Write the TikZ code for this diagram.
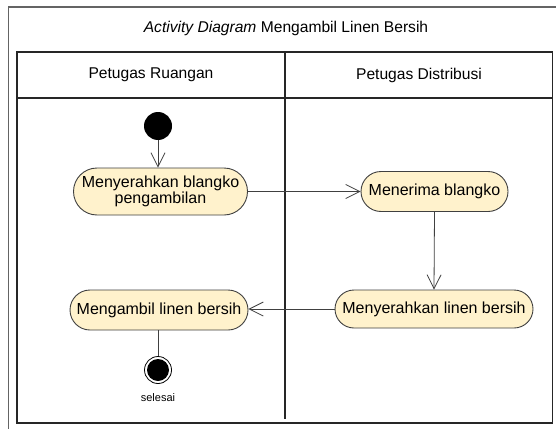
\documentclass[tikz,border=0pt]{standalone}
\usepackage{fontspec}
\setmainfont{Liberation Sans}
\usetikzlibrary{arrows.meta,shapes.misc}
\definecolor{actfill}{RGB}{255,242,204}
\definecolor{linegray}{RGB}{64,64,64}
\definecolor{framegray}{RGB}{100,100,100}
\tikzset{
  activity/.style={rounded rectangle, draw=linegray, fill=actfill, line width=0.9pt,
    align=center, inner sep=0pt,
    font=\fontsize{16}{16.5}\selectfont},
  flow/.style={draw=linegray, line width=0.8pt,
    -{Straight Barb[length=14pt,width=14pt,line width=0.8pt]}},
  plainflow/.style={draw=linegray, line width=0.8pt},
  outerframe/.style={draw=framegray, line width=1.2pt},
  laneframe/.style={draw=black!85, line width=1.3pt},
  lanetitle/.style={font=\fontsize{15.6}{17}\selectfont},
}
\begin{document}
\begin{tikzpicture}[x=1pt,y=-1pt]
  \useasboundingbox (0,0) rectangle (556,428);
  \fill[white] (0,0) rectangle (556,428);
  \clip (0,0) rectangle (556,428);

  % outer diagram frame and title
  \draw[outerframe] (8.5,440) -- (8.5,7) -- (570,7);
  \node[lanetitle] (title) at (286,28) {\textit{Activity Diagram} Mengambil Linen Bersih};

  % swimlanes
  \draw[laneframe] (17,52) rectangle (552.5,423);
  \draw[laneframe] (17,98) -- (552.5,98);
  \draw[laneframe] (285,52) -- (285,419);
  \node[lanetitle] (laneA) at (151,75) {Petugas Ruangan};
  \node[lanetitle] (laneB) at (419,75) {Petugas Distribusi};

  % start and end points
  \node[circle, fill=black, minimum size=28pt, inner sep=0pt] (start) at (158,126) {};
  \node[circle, draw=black, line width=0.8pt, minimum size=27pt, inner sep=0pt] (end) at (158,370) {};
  \fill (end.center) circle (11);
  \node[font=\fontsize{11}{12}\selectfont] (endlabel) at (158,398) {selesai};

  % activities
  \node[activity, minimum width=174pt, minimum height=47pt] (a1) at (160.5,191.5)
    {Menyerahkan blangko\\pengambilan};
  \node[activity, minimum width=147pt, minimum height=40pt] (a2) at (434.5,191.5) {Menerima blangko};
  \node[activity, minimum width=198pt, minimum height=38pt] (a3) at (434,309) {Menyerahkan linen bersih};
  \node[activity, minimum width=178pt, minimum height=40pt] (a4) at (159,310) {Mengambil linen bersih};

  % control flows
  \draw[flow] (start.south) -- (start.south |- a1.north);
  \draw[flow] (a1.east) -- (a1.east -| a2.west);
  \draw[flow] (a2.south) -- (a3.north);
  \draw[flow] (a3.west) -- (a3.west -| a4.east);
  \draw[plainflow] (a4.south -| end.north) -- (end.north);
\end{tikzpicture}
\end{document}
